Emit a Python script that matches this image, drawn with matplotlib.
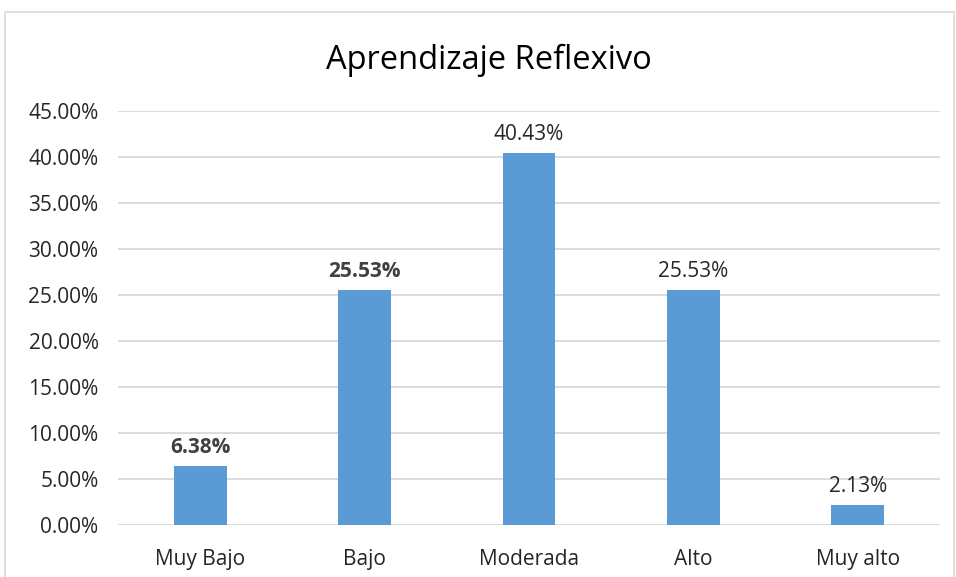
import matplotlib.pyplot as plt
from matplotlib.patches import Rectangle
from matplotlib.ticker import FuncFormatter
import numpy as np

categories = ['Muy Bajo', 'Bajo', 'Moderada', 'Alto', 'Muy alto']
values = [6.38, 25.53, 40.43, 25.53, 2.13]
label_bold = [True, True, False, False, False]
yticks = [0, 5, 10, 15, 20, 25, 30, 35, 40, 45]

plt.rcParams['font.family'] = ['Open Sans', 'DejaVu Sans']

fig = plt.figure(figsize=(9.56, 5.77), dpi=100)
ax = fig.add_axes([118/956, 1 - 525/577, 822/956, 414/577])

x = np.arange(len(categories))
ax.bar(x, values, width=0.32, color='#5B9BD5', zorder=3)

for xi, v, b in zip(x, values, label_bold):
    ax.annotate(f'{v:.2f}%', (xi, v), xytext=(0, 6), textcoords='offset points',
                ha='center', va='bottom', fontsize=15,
                fontweight='bold' if b else 'normal',
                color='#404040' if b else '#262626')

ax.set_xlim(-0.5, len(categories) - 0.5)
ax.set_ylim(0, 45)
ax.set_yticks(yticks)
ax.yaxis.set_major_formatter(FuncFormatter(lambda v, p: f'{v:.2f}%'))
ax.set_xticks(x)
ax.set_xticklabels(categories)
ax.tick_params(axis='both', length=0, labelsize=15, colors='#262626')
ax.tick_params(axis='x', pad=17)
ax.tick_params(axis='y', pad=14)
ax.grid(axis='y', color='#D9D9D9', linewidth=1.3, zorder=0)
for s in ax.spines.values():
    s.set_visible(False)

fig.text(489/956, 1 - 60/577, 'Aprendizaje Reflexivo', ha='center', va='center',
         fontsize=23.5, color='#000000')

fig.patches.append(Rectangle((5/956, -0.01), 949/956, 1 - 12/577 + 0.01,
                             transform=fig.transFigure, fill=False,
                             edgecolor='#D9D9D9', linewidth=1.2))

fig.savefig('out.png', dpi=100)
